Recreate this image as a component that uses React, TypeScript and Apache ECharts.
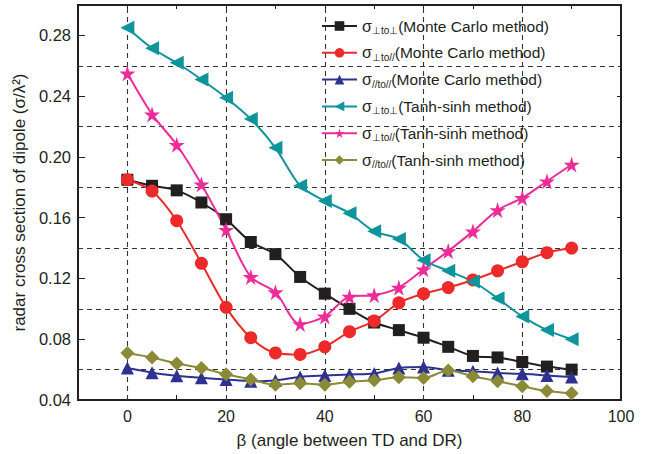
import React, { useEffect, useRef } from "react";
import * as echarts from "echarts";

const angles = [0, 5, 10, 15, 20, 25, 30, 35, 40, 45, 50, 55, 60, 65, 70, 75, 80, 85, 90];

const mcPerpPerp = [0.185, 0.181, 0.178, 0.170, 0.159, 0.144, 0.136, 0.121, 0.110, 0.100, 0.091, 0.086, 0.081, 0.075, 0.069, 0.068, 0.065, 0.062, 0.060];
const mcPerpPar = [0.185, 0.1775, 0.158, 0.130, 0.101, 0.081, 0.071, 0.070, 0.075, 0.085, 0.092, 0.104, 0.110, 0.114, 0.119, 0.125, 0.131, 0.137, 0.140];
const mcParPar = [0.061, 0.058, 0.056, 0.0546, 0.0535, 0.0524, 0.0529, 0.0552, 0.0561, 0.0568, 0.0574, 0.061, 0.0617, 0.0596, 0.0589, 0.0578, 0.0572, 0.0561, 0.0552];
const tsPerpPerp = [0.285, 0.2715, 0.262, 0.251, 0.239, 0.225, 0.206, 0.181, 0.171, 0.163, 0.151, 0.146, 0.132, 0.125, 0.118, 0.107, 0.095, 0.086, 0.080];
const tsPerpPar = [0.255, 0.228, 0.208, 0.182, 0.152, 0.121, 0.111, 0.090, 0.095, 0.108, 0.109, 0.114, 0.126, 0.138, 0.151, 0.165, 0.173, 0.184, 0.195];
const tsParPar = [0.071, 0.068, 0.064, 0.061, 0.057, 0.0535, 0.050, 0.051, 0.050, 0.052, 0.053, 0.055, 0.0545, 0.0594, 0.0557, 0.0524, 0.0491, 0.0459, 0.0444];

const xGridLines = [0, 20, 40, 60, 80];
const yGridLines = [0.06, 0.10, 0.14, 0.18, 0.22, 0.26];
const xRange = [-10, 100];
const yRange = [0.04, 0.3];

const seriesNames = ["mcPP", "mcPA", "mcAA", "tsPP", "tsPA", "tsAA"];
const subs = ["⊥to⊥", "⊥to//", "//to//", "⊥to⊥", "⊥to//", "//to//"];
const methods = ["(Monte Carlo method)", "(Monte Carlo method)", "(Monte Carlo method)", "(Tanh-sinh method)", "(Tanh-sinh method)", "(Tanh-sinh method)"];
const colors = ["#231f20", "#ed2a2a", "#2e3192", "#0e959b", "#ec2d99", "#8b8a36"];

const FONT = "Liberation Sans, Arial, sans-serif";
const STAR = "path://M50,0 L61,35 L98,35 L68,57 L79,91 L50,70 L21,91 L32,57 L2,35 L39,35 Z";

export default function App() {
  const ref = useRef<HTMLDivElement>(null);
  useEffect(() => {
    if (!ref.current) return;
    const chart = echarts.init(ref.current, null, { renderer: "svg" });
    const datasets = [mcPerpPerp, mcPerpPar, mcParPar, tsPerpPerp, tsPerpPar, tsParPar];
    const symbols: any[] = ["rect", "circle", "triangle", "triangle", STAR, "diamond"];
    const sizes: any[] = [12, 13, 13, 14, 16, 14];
    const rotates = [0, 0, 0, 90, 0, 0];
    const series: any[] = [
      {
        name: "vlines",
        type: "lines",
        coordinateSystem: "cartesian2d",
        lineStyle: { type: [5, 4], color: "#333", width: 1.1, opacity: 1 },
        data: xGridLines.map((x) => ({ coords: [[x, yRange[0]], [x, yRange[1]]] })),
      },
      {
        name: "hlines",
        type: "lines",
        coordinateSystem: "cartesian2d",
        lineStyle: { type: [5, 4], color: "#333", width: 1.1, opacity: 1 },
        data: yGridLines.map((y) => ({ coords: [[xRange[0], y], [xRange[1], y]] })),
      },
      ...datasets.map((d, i) => ({
        name: seriesNames[i],
        type: "line",
        data: angles.map((a, j) => [a, d[j]]),
        smooth: 0.3,
        symbol: symbols[i],
        symbolSize: sizes[i],
        symbolRotate: rotates[i],
        lineStyle: { color: colors[i], width: 2 },
        itemStyle: { color: colors[i] },
      })),
    ];
    chart.setOption({
      animation: false,
      grid: { left: 78, right: 31, top: 5, bottom: 50, show: true, borderColor: "#231f20", borderWidth: 2 },
      legend: {
        data: seriesNames,
        orient: "vertical",
        left: 316,
        top: 13,
        itemWidth: 35,
        itemHeight: 12,
        itemGap: 9.3,
        formatter: (name: string) => {
          const i = seriesNames.indexOf(name);
          return "{a|σ}{s|" + subs[i] + "}{b|" + methods[i] + "}";
        },
        textStyle: {
          fontFamily: FONT,
          color: "#231f20",
          rich: {
            a: { fontSize: 16, lineHeight: 19, fontFamily: FONT, color: "#231f20" },
            b: { fontSize: 15.5, lineHeight: 19, fontFamily: FONT, color: "#231f20" },
            s: { fontSize: 10, lineHeight: 10, verticalAlign: "bottom", fontFamily: FONT, color: "#231f20" },
          },
        },
      },
      xAxis: [
        {
          type: "value",
          min: xRange[0],
          max: xRange[1],
          interval: 10,
          name: "β (angle between TD and DR)",
          nameLocation: "middle",
          nameGap: 32,
          nameTextStyle: { fontSize: 17, color: "#231f20", fontFamily: FONT },
          axisLine: { show: true, onZero: false, lineStyle: { color: "#231f20", width: 2 } },
          axisTick: { show: true, inside: true, length: 5, lineStyle: { color: "#231f20" } },
          axisLabel: {
            fontSize: 16,
            color: "#231f20",
            margin: 8,
            fontFamily: FONT,
            formatter: (v: number) => (v >= 0 && Math.round(v) % 20 === 0 ? String(Math.round(v)) : ""),
          },
          splitLine: { show: false },
        },
        {
          type: "value",
          min: xRange[0],
          max: xRange[1],
          interval: 10,
          position: "top",
          axisLine: { show: true, onZero: false, lineStyle: { color: "#231f20", width: 2 } },
          axisTick: { show: true, inside: true, length: 4 },
          axisLabel: { show: false },
          splitLine: { show: false },
        },
      ],
      yAxis: [
        {
          type: "value",
          min: yRange[0],
          max: yRange[1],
          interval: 0.04,
          name: "radar cross section of dipole (σ/λ²)",
          nameLocation: "middle",
          nameGap: 39,
          nameTextStyle: { fontSize: 17, color: "#231f20", fontFamily: FONT },
          axisLine: { show: true, onZero: false, lineStyle: { color: "#231f20", width: 2 } },
          axisTick: { show: true, inside: true, length: 7, lineStyle: { color: "#231f20" } },
          axisLabel: {
            fontSize: 16.5,
            color: "#231f20",
            margin: 7,
            fontFamily: FONT,
            showMaxLabel: false,
            formatter: (v: number) => v.toFixed(2),
          },
          splitLine: { show: false },
        },
        {
          type: "value",
          min: yRange[0],
          max: yRange[1],
          interval: 0.04,
          position: "right",
          axisLine: { show: true, onZero: false, lineStyle: { color: "#231f20", width: 2 } },
          axisTick: { show: true, inside: true, length: 4 },
          axisLabel: { show: false },
          splitLine: { show: false },
        },
      ],
      series,
    });
    return () => chart.dispose();
  }, []);
  return <div ref={ref} style={{ width: 652, height: 454, position: "absolute", left: 0, top: 0 }} />;
}
